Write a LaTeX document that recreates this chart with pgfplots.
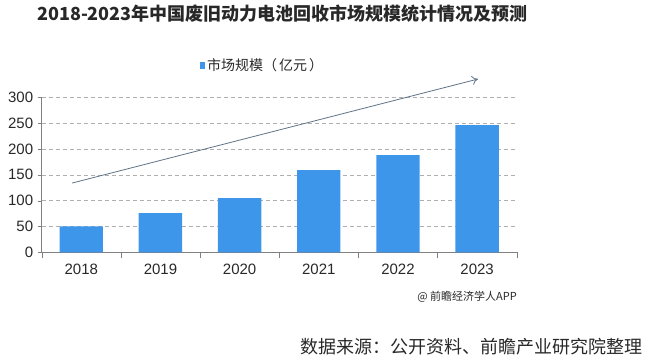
\documentclass[border=0pt]{standalone}
\usepackage{pgfplots}
\pgfplotsset{compat=1.18}
\usetikzlibrary{arrows.meta}
\usepackage{fontspec}
\setmainfont{Liberation Sans}
\newfontfamily\cjk{Noto Sans CJK SC}
\definecolor{barblue}{RGB}{62,150,234}
\definecolor{axgray}{RGB}{128,128,128}
\definecolor{gridgray}{RGB}{175,175,175}
\definecolor{arrowc}{RGB}{95,115,135}
\definecolor{txt}{RGB}{40,40,40}
\begin{document}
\begin{tikzpicture}[x=1pt,y=1pt]
\path (0,0) rectangle (650,-359);
\begin{axis}[
  at={(41.7pt,-252.3pt)}, anchor=south west,
  scale only axis, width=475pt, height=155pt,
  xmin=-0.5, xmax=5.5, ymin=0, ymax=300,
  ybar, bar width=43.4pt,
  axis x line*=bottom, axis y line*=left,
  axis line style={axgray, -},
  xtick={0,...,5}, xticklabels={2018,2019,2020,2021,2022,2023},
  minor xtick={-0.5,0.5,...,5.5},
  ytick={0,50,...,300},
  major x tick style={draw=none},
  tick style={axgray},
  tick align=outside,
  major tick length=4pt, minor tick length=6pt,
  ymajorgrids, grid style={gridgray, dash pattern=on 4pt off 3pt},
  /pgf/number format/assume math mode=true,
  tick label style={font=\fontsize{15}{15}\selectfont, text=txt},
  y tick label style={xshift=-1pt},
  x tick label style={yshift=-4pt},
  clip=false,
  legend style={at={(axis description cs:0.333,1.208)}, anchor=west, draw=none, fill=none, inner sep=0pt,
    font=\cjk\fontsize{14}{14}\selectfont, text=txt, legend cell align=left,
    nodes={inner sep=2pt}},
  legend image code/.code={\fill[barblue] (0pt,-3.5pt) rectangle (5pt,3.5pt);},
]
\addplot[fill=barblue, draw=none] coordinates {(0,50) (1,76) (2,105) (3,159) (4,188) (5,246)};
\addlegendentry{市场规模（\hspace{2pt}亿元\hspace{2pt}）}
\draw[arrowc, line width=0.8pt, -{To[length=6pt,width=9pt]}] (axis cs:-0.117,134) -- (axis cs:5.011,335.4);
\end{axis}
\node[anchor=west, text=txt, font=\cjk\bfseries\fontsize{18}{18}\selectfont, inner sep=0] at (37,-14) {2018-2023年中国废旧动力电池回收市场规模统计情况及预测};
\node[text=txt, font=\cjk\fontsize{11}{11}\selectfont, inner sep=0] at (467,-297) {@ 前瞻经济学人APP};
\node[anchor=east, text=txt, font=\cjk\fontsize{18}{18}\selectfont, inner sep=0] at (643,-347) {数据来源：公开资料、前瞻产业研究院整理};
\end{tikzpicture}
\end{document}
